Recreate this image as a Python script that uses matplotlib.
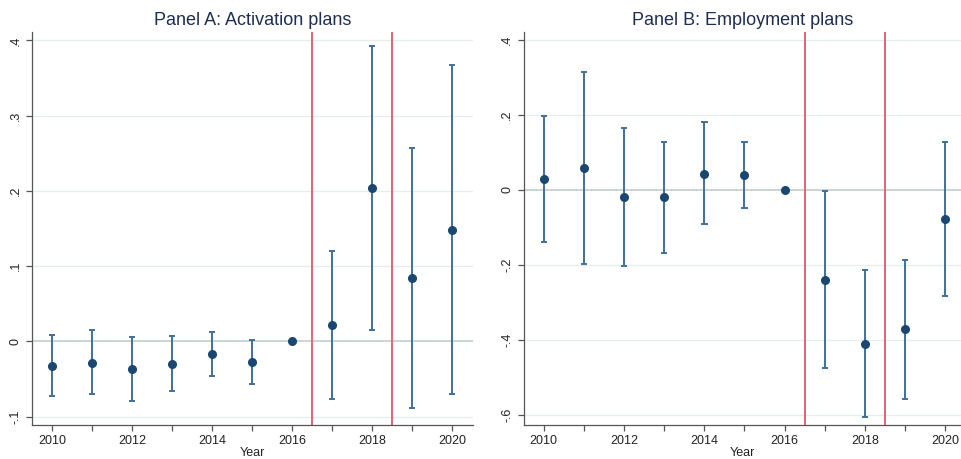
import numpy as np
import matplotlib
matplotlib.use("Agg")
import matplotlib.pyplot as plt

plt.rcParams["font.family"] = ["Liberation Sans", "DejaVu Sans"]

years = [2010, 2011, 2012, 2013, 2014, 2015, 2016, 2017, 2018, 2019, 2020]

# Panel A: activation plans (coefficient, lower and upper CI)
act_coef = [-0.032, -0.028, -0.037, -0.030, -0.017, -0.027, 0.0, 0.022, 0.204, 0.085, 0.148]
act_lo = [-0.073, -0.070, -0.079, -0.066, -0.046, -0.057, np.nan, -0.076, 0.015, -0.088, -0.070]
act_hi = [0.009, 0.0155, 0.006, 0.007, 0.013, 0.002, np.nan, 0.120, 0.393, 0.257, 0.367]

# Panel B: employment plans
emp_coef = [0.0285, 0.058, -0.019, -0.020, 0.043, 0.041, 0.0, -0.241, -0.410, -0.372, -0.077]
emp_lo = [-0.139, -0.198, -0.202, -0.168, -0.091, -0.047, np.nan, -0.476, -0.605, -0.557, -0.282]
emp_hi = [0.196, 0.315, 0.166, 0.129, 0.180, 0.129, np.nan, -0.003, -0.213, -0.187, 0.129]

act_ticks = [-0.1, 0, 0.1, 0.2, 0.3, 0.4]
act_labels = ["-.1", "0", ".1", ".2", ".3", ".4"]
emp_ticks = [-0.6, -0.4, -0.2, 0, 0.2, 0.4]
emp_labels = ["-.6", "-.4", "-.2", "0", ".2", ".4"]

navy = "#1a476f"
bar_col = "#41709b"
red = "#e8607a"
grid_col = "#e4eeee"
zero_col = "#b9cac3"
axis_col = "#555555"
title_col = "#1e2d50"

fig = plt.figure(figsize=(9.62, 4.59), dpi=100)
axA = fig.add_axes([0.0333, 0.074, 0.4584, 0.856])
axB = fig.add_axes([0.5444, 0.074, 0.4556, 0.856])

panels = [
    (axA, "Panel A: Activation plans", act_coef, act_lo, act_hi, act_ticks, act_labels, (-0.111, 0.411), 2020.52),
    (axB, "Panel B: Employment plans", emp_coef, emp_lo, emp_hi, emp_ticks, emp_labels, (-0.627, 0.421), 2020.42),
]

for ax, title, coef, lo, hi, ticks, labels, ylim, xmax in panels:
    yrs = np.array(years)
    lo = np.array(lo)
    hi = np.array(hi)
    ok = ~np.isnan(lo)

    for t in ticks:
        if t == 0:
            continue
        ax.axhline(t, color=grid_col, lw=0.9, zorder=0)
    ax.axhline(0, color=zero_col, lw=1.1, zorder=1)

    ax.axvline(2016.5, color=red, lw=1.4, zorder=2)
    ax.axvline(2018.5, color=red, lw=1.4, zorder=2)

    ax.vlines(yrs[ok], lo[ok], hi[ok], color=bar_col, lw=1.4, zorder=3)
    ax.hlines(lo[ok], yrs[ok] - 0.08, yrs[ok] + 0.08, color=bar_col, lw=1.4, zorder=3)
    ax.hlines(hi[ok], yrs[ok] - 0.08, yrs[ok] + 0.08, color=bar_col, lw=1.4, zorder=3)
    ax.plot(yrs, coef, "o", color=navy, ms=5.5, zorder=4)

    ax.set_xlim(2009.5, xmax)
    ax.set_ylim(*ylim)
    ax.set_xticks(years)
    ax.set_xticklabels([str(y) if y % 2 == 0 else "" for y in years])
    ax.set_yticks(ticks)
    ax.set_yticklabels(labels, rotation=90, va="center")
    ax.tick_params(axis="both", colors=axis_col, labelcolor="#222222", labelsize=9, length=4, width=0.9)
    ax.set_xlabel("Year", fontsize=9, color="#222222", labelpad=0)
    ax.set_title(title, fontsize=13, color=title_col, pad=5)

    for s in ["top", "right"]:
        ax.spines[s].set_visible(False)
    for s in ["left", "bottom"]:
        ax.spines[s].set_color(axis_col)
        ax.spines[s].set_linewidth(0.9)

fig.savefig("out.png", dpi=100, facecolor="white")
